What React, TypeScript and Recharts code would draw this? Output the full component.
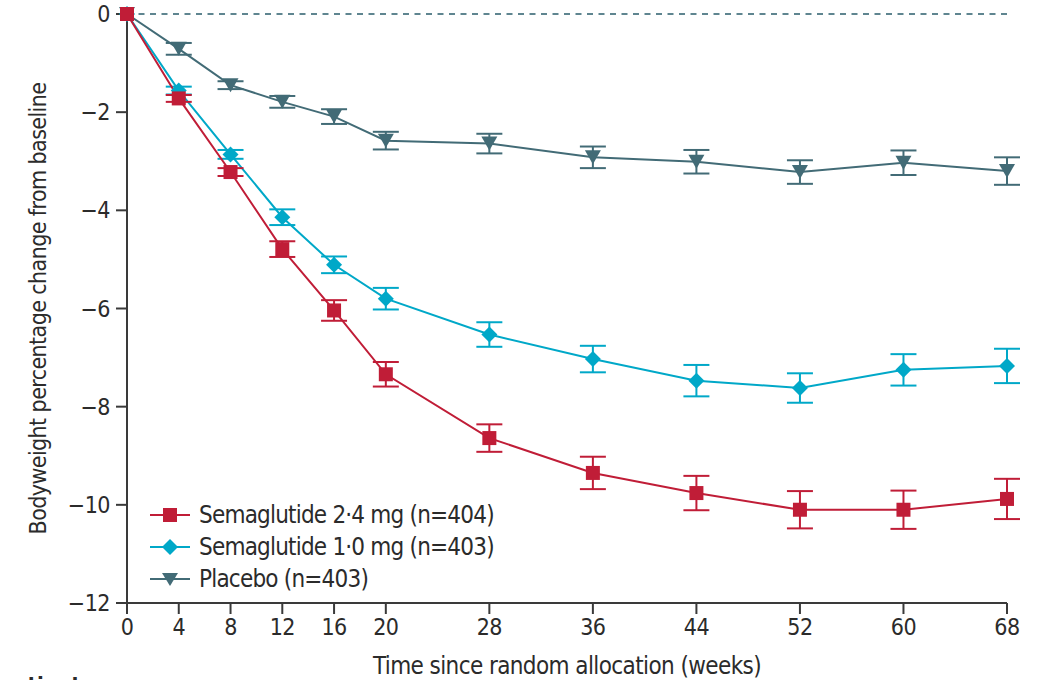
import React from 'react';
import { LineChart, Line, XAxis, YAxis, ErrorBar, ReferenceLine } from 'recharts';

const weeks = [0, 4, 8, 12, 16, 20, 28, 36, 44, 52, 60, 68];
const xTicks = [0, 4, 8, 12, 16, 20, 28, 36, 44, 52, 60, 68];
const yTicks = [0, -2, -4, -6, -8, -10, -12];

const sema24 = [0, -1.72, -3.22, -4.79, -6.04, -7.34, -8.64, -9.35, -9.76, -10.1, -10.1, -9.88];
const sema24Err = [0, 0.07, 0.08, 0.16, 0.21, 0.25, 0.28, 0.33, 0.35, 0.38, 0.39, 0.41];
const sema10 = [0, -1.56, -2.86, -4.14, -5.11, -5.8, -6.53, -7.03, -7.47, -7.62, -7.25, -7.17];
const sema10Err = [0, 0.08, 0.09, 0.16, 0.17, 0.22, 0.25, 0.27, 0.32, 0.3, 0.32, 0.35];
const placebo = [0, -0.71, -1.45, -1.79, -2.09, -2.58, -2.64, -2.92, -3.01, -3.22, -3.03, -3.2];
const placeboErr = [0, 0.12, 0.08, 0.12, 0.15, 0.18, 0.2, 0.22, 0.24, 0.24, 0.25, 0.28];

const seriesNames = ['Semaglutide 2·4 mg (n=404)', 'Semaglutide 1·0 mg (n=403)', 'Placebo (n=403)'];

const RED = '#c01d37';
const CYAN = '#00a8c8';
const SLATE = '#426b76';
const AXIS = '#3a3a3a';
const TEXT = '#2b2b2b';
const FONT = "'DejaVu Sans Condensed', 'DejaVu Sans', sans-serif";

const data = weeks.map((w, i) => ({
  week: w,
  s24: sema24[i],
  s24e: sema24Err[i],
  s10: sema10[i],
  s10e: sema10Err[i],
  pl: placebo[i],
  ple: placeboErr[i],
}));

const SquareDot = (props: any) => {
  const { cx, cy } = props;
  if (cx == null || cy == null) return null;
  return <rect x={cx - 7} y={cy - 7} width={14} height={14} fill={RED} />;
};
const DiamondDot = (props: any) => {
  const { cx, cy } = props;
  if (cx == null || cy == null) return null;
  const r = 8;
  return <polygon points={`${cx},${cy - r} ${cx + r},${cy} ${cx},${cy + r} ${cx - r},${cy}`} fill={CYAN} />;
};
const TriDot = (props: any) => {
  const { cx, cy } = props;
  if (cx == null || cy == null) return null;
  return <polygon points={`${cx - 8},${cy - 7} ${cx + 8},${cy - 7} ${cx},${cy + 7}`} fill={SLATE} />;
};

const legendMarker = (i: number, cx: number, cy: number) => {
  const color = [RED, CYAN, SLATE][i];
  if (i === 0) return <rect x={cx - 7} y={cy - 7} width={14} height={14} fill={color} />;
  if (i === 1) return <polygon points={`${cx},${cy - 8} ${cx + 8},${cy} ${cx},${cy + 8} ${cx - 8},${cy}`} fill={color} />;
  return <polygon points={`${cx - 8},${cy - 6} ${cx + 8},${cy - 6} ${cx},${cy + 7}`} fill={color} />;
};

const LegendBlock = () => (
  <g>
    {seriesNames.map((n, i) => {
      const cy = 515 + i * 32;
      const color = [RED, CYAN, SLATE][i];
      return (
        <g key={n}>
          <line x1={150} y1={cy} x2={190} y2={cy} stroke={color} strokeWidth={2} />
          {legendMarker(i, 170, cy)}
          <text x={199} y={cy + 8} fontFamily={FONT} fontSize={24} letterSpacing={-0.8} fill={TEXT}>{n}</text>
        </g>
      );
    })}
  </g>
);

export default function App() {
  return (
    <div style={{ position: 'absolute', left: 0, top: 0, width: 1051, height: 680, background: '#fff', overflow: 'hidden' }}>
      <LineChart width={1051} height={680} data={data} margin={{ top: 14, right: 44, bottom: 0, left: 0 }}>
        <XAxis
          dataKey="week"
          type="number"
          domain={[0, 68]}
          ticks={xTicks}
          interval={0}
          stroke={AXIS}
          strokeWidth={2}
          tickSize={11}
          tickMargin={5}
          height={77}
          tick={{ fill: TEXT, fontSize: 23, fontFamily: FONT, letterSpacing: -0.5 }}
          label={{ value: 'Time since random allocation (weeks)', position: 'insideBottom', offset: 6, fill: TEXT, fontSize: 24, fontFamily: FONT, letterSpacing: -0.6 }}
        />
        <YAxis
          type="number"
          domain={[-12, 0]}
          ticks={yTicks}
          interval={0}
          width={127}
          stroke={AXIS}
          strokeWidth={2}
          tickSize={11}
          tickMargin={6}
          tickFormatter={(v: number) => (v < 0 ? `\u2212${Math.abs(v)}` : `${v}`)}
          tick={{ fill: TEXT, fontSize: 23, fontFamily: FONT, letterSpacing: -0.5 }}
          label={{ value: 'Bodyweight percentage change from baseline', angle: -90, position: 'insideLeft', offset: 38, style: { textAnchor: 'middle' }, fill: TEXT, fontSize: 23, fontFamily: FONT, letterSpacing: -0.6 }}
        />
        <ReferenceLine y={0} stroke="#5f8590" strokeWidth={2} strokeDasharray="6 5.5" />
        <Line dataKey="pl" stroke={SLATE} strokeWidth={2} dot={<TriDot />} activeDot={false} isAnimationActive={false}>
          <ErrorBar dataKey="ple" direction="y" width={13} stroke={SLATE} strokeWidth={2} />
        </Line>
        <Line dataKey="s10" stroke={CYAN} strokeWidth={2} dot={<DiamondDot />} activeDot={false} isAnimationActive={false}>
          <ErrorBar dataKey="s10e" direction="y" width={13} stroke={CYAN} strokeWidth={2} />
        </Line>
        <Line dataKey="s24" stroke={RED} strokeWidth={2} dot={<SquareDot />} activeDot={false} isAnimationActive={false}>
          <ErrorBar dataKey="s24e" direction="y" width={13} stroke={RED} strokeWidth={2} />
        </Line>
        <LegendBlock />
        <text x={0} y={692} fontFamily={FONT} fontWeight="bold" fontSize={22} fill={TEXT}>patients</text>
      </LineChart>
    </div>
  );
}
